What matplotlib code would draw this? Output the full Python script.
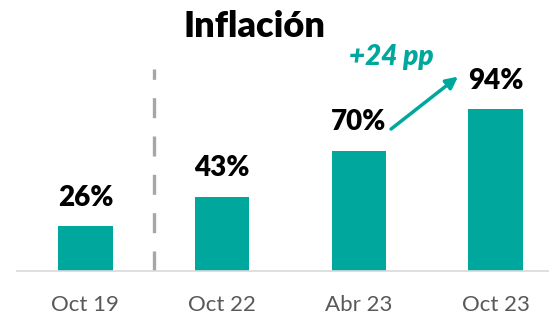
import matplotlib.pyplot as plt

plt.rcParams['font.family'] = ['Lato', 'DejaVu Sans']

periods = ['Oct 19', 'Oct 22', 'Abr 23', 'Oct 23']
inflation = [26, 43, 70, 94]
change_label = '+24 pp'

teal = '#00A79D'

fig = plt.figure(figsize=(5.49, 3.21), dpi=100)
ax = fig.add_axes([17 / 549, 50 / 321, 532 / 549, 271 / 321])

x = range(len(periods))
ax.bar(x, inflation, width=0.4, color=teal, zorder=2)

for i, v in enumerate(inflation):
    ax.text(i, v + 12, f'{v}%', ha='center', va='baseline',
            fontsize=20, fontweight='heavy', color='black')

# separator between pre-2022 and recent readings
ax.axvline(0.5, ymin=0, ymax=(271 - 69) / 271, color='#A6A6A6',
           lw=2.4, linestyle=(0, (6, 5.5)), zorder=1)

# arrow from the Abr 23 label up to the Oct 23 label
ax.annotate('', xy=(2.725, inflation[3] + 19), xytext=(2.235, inflation[2] + 12.5),
            arrowprops=dict(arrowstyle='-|>,head_length=0.7,head_width=0.35',
                            color=teal, lw=2.5, shrinkA=0, shrinkB=0))
ax.text(2.24, inflation[3] + 26, change_label, ha='center', va='baseline',
        fontsize=20, fontweight='heavy', fontstyle='italic', color=teal)

ax.set_xlim(-0.5, 3.39)
ax.set_ylim(0, 157.5)
ax.set_xticks(list(x))
ax.set_xticklabels(periods, fontsize=16, color='#595959')
ax.tick_params(axis='x', length=0, pad=17)
ax.set_yticks([])
for side in ['top', 'right', 'left']:
    ax.spines[side].set_visible(False)
ax.spines['bottom'].set_color('#D9D9D9')
ax.spines['bottom'].set_linewidth(1.2)
ax.patch.set_alpha(0)

fig.text(255 / 549, 1 - 37 / 321, 'Inflación', ha='center', va='baseline',
         fontsize=26, fontweight='heavy', color='black')

fig.savefig('out.png', dpi=100)
